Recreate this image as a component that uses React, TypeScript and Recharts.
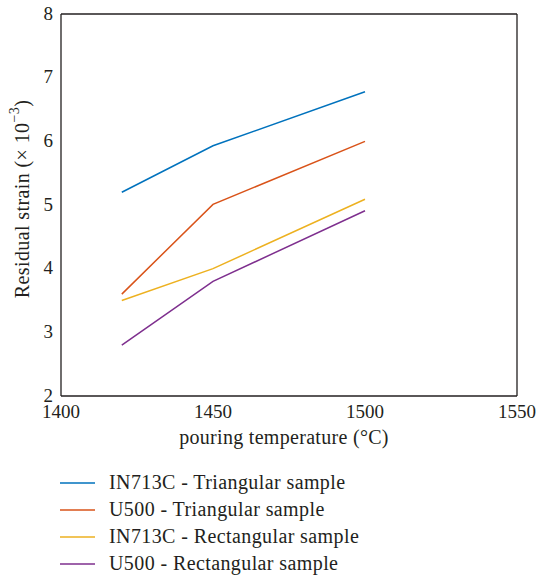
import React from 'react';
import { LineChart, Line, XAxis, YAxis, Legend, Label } from 'recharts';

const temps = [1420, 1450, 1500];
const in713cTri = [5.2, 5.93, 6.78];
const u500Tri = [3.6, 5.01, 6.0];
const in713cRect = [3.5, 4.0, 5.09];
const u500Rect = [2.8, 3.8, 4.91];

const xTicks = [1400, 1450, 1500, 1550];
const yTicks = [2, 3, 4, 5, 6, 7, 8];

const seriesList = [
  { key: 'in713cTri', name: 'IN713C - Triangular sample', values: in713cTri, color: '#0072BD' },
  { key: 'u500Tri', name: 'U500 - Triangular sample', values: u500Tri, color: '#D95319' },
  { key: 'in713cRect', name: 'IN713C - Rectangular sample', values: in713cRect, color: '#EDB120' },
  { key: 'u500Rect', name: 'U500 - Rectangular sample', values: u500Rect, color: '#7E2F8E' },
];

const data = temps.map((t, i) => {
  const row: any = { temp: t };
  seriesList.forEach((s) => { row[s.key] = s.values[i]; });
  return row;
});

const FONT = '"Liberation Serif", serif';
const INK = '#231f20';

const XTick = (props: any) => (
  <text x={props.x} y={props.y} dy="0.71em" textAnchor="middle" fill={INK} fontFamily={FONT} fontSize={19}>
    {props.payload.value}
  </text>
);

const YTick = (props: any) => (
  <text x={props.x} y={props.y} dy="0.3em" textAnchor="end" fill={INK} fontFamily={FONT} fontSize={19}>
    {props.payload.value}
  </text>
);

const YTitle = (props: any) => {
  const vb = props.viewBox;
  const cy = vb.y + vb.height / 2 - 6;
  return (
    <text x={22} y={cy} transform={`rotate(-90, 22, ${cy})`} textAnchor="middle" dominantBaseline="central"
      fill={INK} fontFamily={FONT} fontSize={20} letterSpacing={0.4}>
      Residual strain (× 10<tspan fontSize={14} dy={-8}>−3</tspan><tspan dy={8}>)</tspan>
    </text>
  );
};

const XTitle = (props: any) => {
  const vb = props.viewBox;
  return (
    <text x={vb.x + vb.width / 2 - 5} y={437} textAnchor="middle" dominantBaseline="central"
      fill={INK} fontFamily={FONT} fontSize={20} letterSpacing={0.3}>
      pouring temperature (°C)
    </text>
  );
};

const LegendBox = () => (
  <div style={{ fontFamily: FONT, fontSize: 20, color: INK, letterSpacing: 0.4, whiteSpace: 'nowrap' }}>
    {seriesList.map((s) => (
      <div key={s.key} style={{ display: 'flex', alignItems: 'center', height: 27 }}>
        <svg width={36} height={4} style={{ marginRight: 13 }}>
          <line x1={0} y1={2} x2={35} y2={2} stroke={s.color} strokeWidth={1.5} />
        </svg>
        <span>{s.name}</span>
      </div>
    ))}
  </div>
);

export default function App() {
  return (
    <div style={{ position: 'absolute', left: 0, top: 0, width: 541, height: 578, background: '#fff' }}>
      <LineChart width={541} height={578} data={data}
        margin={{ top: 14, right: 24, left: 14, bottom: 132 }}>
        <XAxis xAxisId="x" dataKey="temp" type="number" domain={[1400, 1550]} ticks={xTicks}
          allowDataOverflow tickLine={false} axisLine={{ stroke: INK, strokeWidth: 1.3 }} height={50}
          tickMargin={3} tick={XTick}>
          <Label content={XTitle} />
        </XAxis>
        <XAxis xAxisId="xin" dataKey="temp" type="number" domain={[1400, 1550]} ticks={[1450, 1500]}
          mirror tick={false} axisLine={false} tickLine={{ stroke: INK }} tickSize={6} />
        <XAxis xAxisId="top" orientation="top" dataKey="temp" type="number" domain={[1400, 1550]}
          ticks={[1425, 1450, 1475, 1500, 1525]} mirror tick={false}
          axisLine={{ stroke: INK, strokeWidth: 1.3 }} tickLine={{ stroke: INK }} tickSize={6} />
        <YAxis yAxisId="y" type="number" domain={[2, 8]} ticks={yTicks} width={47} tickLine={false}
          tickMargin={2} axisLine={{ stroke: INK, strokeWidth: 1.3 }} tick={YTick}>
          <Label content={YTitle} />
        </YAxis>
        <YAxis yAxisId="right" orientation="right" type="number" domain={[2, 8]} ticks={[3, 4, 5, 6, 7]}
          mirror tick={false} axisLine={{ stroke: INK, strokeWidth: 1.3 }} tickLine={{ stroke: INK }} tickSize={6} />
        <Legend layout="horizontal" verticalAlign="middle" content={LegendBox}
          wrapperStyle={{ position: 'absolute', left: 60, top: 469, width: 360, height: 110 }} />
        {seriesList.map((s) => (
          <Line key={s.key} xAxisId="x" yAxisId="y" type="linear" dataKey={s.key} name={s.name}
            stroke={s.color} strokeWidth={1.5} dot={false} activeDot={false} isAnimationActive={false} />
        ))}
      </LineChart>
    </div>
  );
}
